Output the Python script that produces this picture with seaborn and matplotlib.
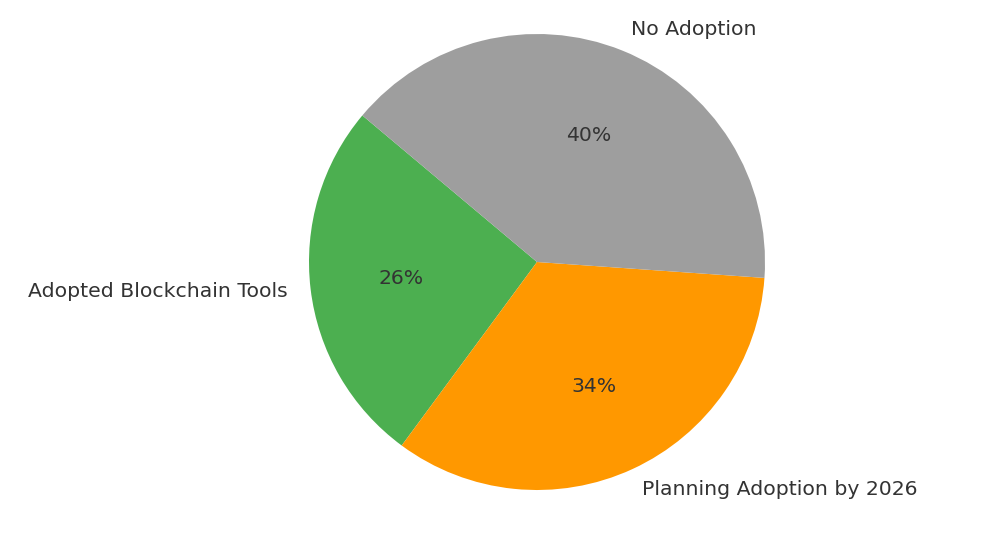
import matplotlib
matplotlib.use("Agg")
import matplotlib.pyplot as plt
import seaborn as sns

sns.set_theme(style="white")
plt.rcParams['font.family'] = ['DejaVu Sans']

categories = ["Adopted Blockchain Tools", "Planning Adoption by 2026", "No Adoption"]
values = [26, 34, 40]
colors = ["#4CAF50", "#FF9800", "#9E9E9E"]

fig = plt.figure(figsize=(10.02, 5.38), dpi=100)
fig.patch.set_facecolor("white")
ax = fig.add_axes([252 / 1002, -9 / 538, 570 / 1002, 570 / 538])

wedges, texts, autotexts = ax.pie(
    values, labels=categories, colors=colors, autopct="%1.0f%%",
    startangle=140, textprops={"fontsize": 14.7, "color": "#333333"},
    wedgeprops={"linewidth": 0, "edgecolor": "none"},
)
ax.set_aspect("equal")
fig.savefig("out.png", dpi=100, facecolor="white")
